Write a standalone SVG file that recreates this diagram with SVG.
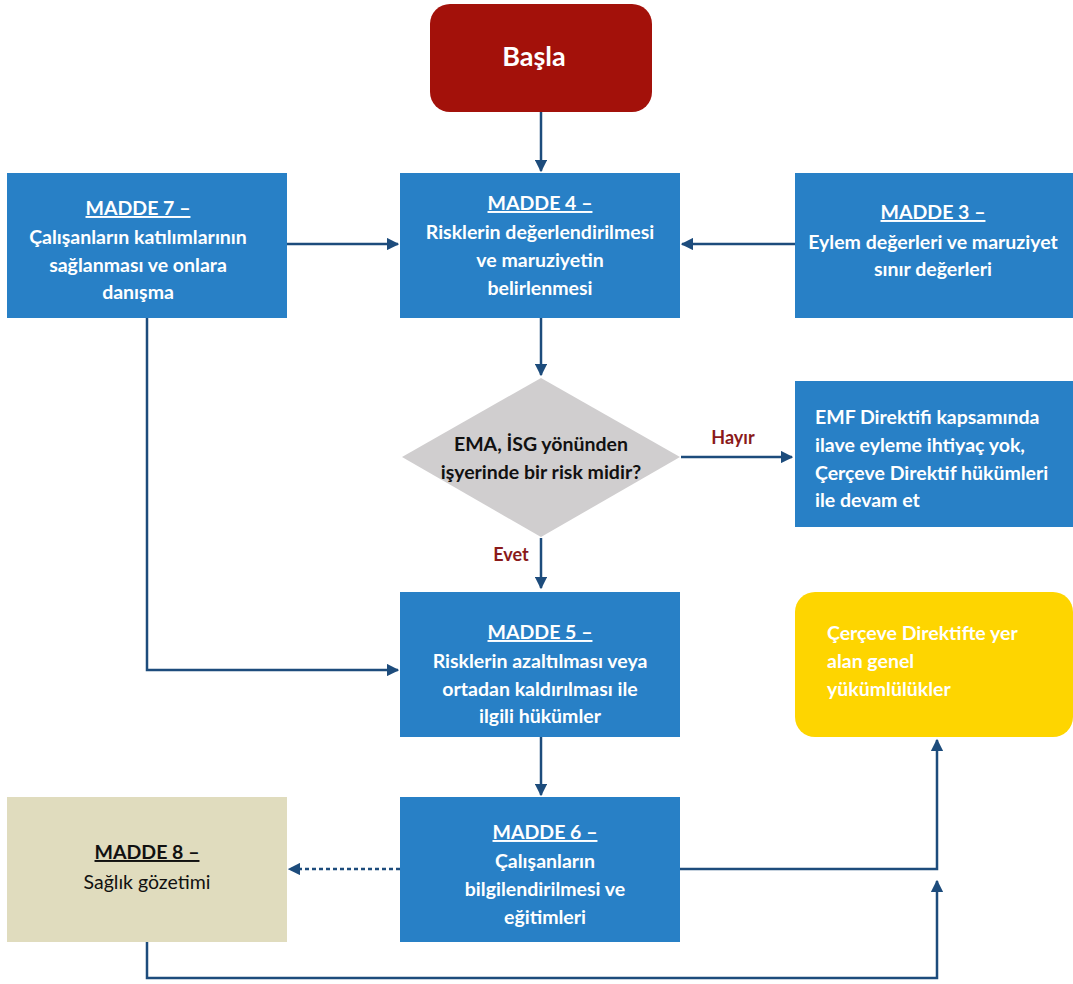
<svg xmlns="http://www.w3.org/2000/svg" width="1073" height="984" viewBox="0 0 1073 984">
<defs>
<style>
.t{font-family:Lato,"Open Sans","Liberation Sans",sans-serif;font-weight:bold;font-size:19.5px;fill:#fff;text-anchor:middle}
.l{text-anchor:start}
.u{text-decoration:underline}
.k{fill:#111}
.lab{font-family:Lato,"Open Sans","Liberation Sans",sans-serif;font-weight:bold;font-size:18px;fill:#8a1a1a}
.blue{fill:#2880c6}
.c{fill:none;stroke:#1d4c7c;stroke-width:2.5}
</style>
<marker id="a" viewBox="0 0 10 10" refX="9" refY="5" markerWidth="5" markerHeight="5" orient="auto" markerUnits="strokeWidth"><path d="M0,0 L10,5 L0,10 z" fill="#1d4c7c"/></marker>
</defs>
<rect width="1073" height="984" fill="#fff"/>
<g id="connectors">
<path class="c" d="M541,112 V171" marker-end="url(#a)"/>
<path class="c" d="M287,244 H398" marker-end="url(#a)"/>
<path class="c" d="M795,244 H682" marker-end="url(#a)"/>
<path class="c" d="M541,318 V375" marker-end="url(#a)"/>
<path class="c" d="M681,457 H792" marker-end="url(#a)"/>
<path class="c" d="M541,538 V588" marker-end="url(#a)"/>
<path class="c" d="M147,318 V670 H398" marker-end="url(#a)"/>
<path class="c" d="M541,737 V795" marker-end="url(#a)"/>
<path class="c" d="M400,869 H289" stroke-dasharray="4,3" marker-end="url(#a)"/>
<path class="c" d="M680,869 H937 V740" marker-end="url(#a)"/>
<path class="c" d="M147,942 V978 H937 V881" marker-end="url(#a)"/>
<text class="lab" x="733" y="444" text-anchor="middle">Hayır</text>
<text class="lab" x="511" y="561" text-anchor="middle">Evet</text>
</g>
<g id="basla">
<rect x="430" y="4" width="222" height="108" rx="20" fill="#a3110a"/>
<text class="t" x="534" y="66" style="font-size:27px">Başla</text>
</g>
<g id="madde4">
<rect class="blue" x="400" y="173" width="280" height="145"/>
<text class="t" x="540" y="210"><tspan class="u">MADDE 4 –</tspan><tspan x="540" dy="29">Risklerin değerlendirilmesi</tspan><tspan x="540" dy="28">ve maruziyetin</tspan><tspan x="540" dy="28">belirlenmesi</tspan></text>
</g>
<g id="madde7">
<rect class="blue" x="7" y="173" width="280" height="145"/>
<text class="t" x="138" y="215"><tspan class="u">MADDE 7 –</tspan><tspan x="138" dy="29">Çalışanların katılımlarının</tspan><tspan x="138" dy="28">sağlanması ve onlara</tspan><tspan x="138" dy="27">danışma</tspan></text>
</g>
<g id="madde3">
<rect class="blue" x="795" y="173" width="278" height="145"/>
<text class="t" x="933" y="219"><tspan class="u">MADDE 3 –</tspan><tspan x="933" dy="30">Eylem değerleri ve maruziyet</tspan><tspan x="933" dy="27">sınır değerleri</tspan></text>
</g>
<g id="karar">
<polygon points="541,378 680,457 541,537 402,457" fill="#d0cecf"/>
<text class="t k" x="541" y="451"><tspan>EMA, İSG yönünden</tspan><tspan x="541" dy="28">işyerinde bir risk midir?</tspan></text>
</g>
<g id="emf">
<rect class="blue" x="795" y="381" width="278" height="146"/>
<text class="t l" x="815" y="424"><tspan>EMF Direktifi kapsamında</tspan><tspan x="815" dy="28">ilave eyleme ihtiyaç yok,</tspan><tspan x="815" dy="28">Çerçeve Direktif hükümleri</tspan><tspan x="815" dy="27">ile devam et</tspan></text>
</g>
<g id="madde5">
<rect class="blue" x="400" y="592" width="280" height="145"/>
<text class="t" x="540" y="639"><tspan class="u">MADDE 5 –</tspan><tspan x="540" dy="29">Risklerin azaltılması veya</tspan><tspan x="540" dy="28">ortadan kaldırılması ile</tspan><tspan x="540" dy="27">ilgili hükümler</tspan></text>
</g>
<g id="genel">
<rect x="795" y="592" width="278" height="145" rx="20" fill="#fed500"/>
<text class="t l" x="827" y="640"><tspan>Çerçeve Direktifte yer</tspan><tspan x="827" dy="28">alan genel</tspan><tspan x="827" dy="28">yükümlülükler</tspan></text>
</g>
<g id="madde6">
<rect class="blue" x="400" y="797" width="280" height="145"/>
<text class="t" x="545" y="839"><tspan class="u">MADDE 6 –</tspan><tspan x="545" dy="29">Çalışanların</tspan><tspan x="545" dy="28">bilgilendirilmesi ve</tspan><tspan x="545" dy="28">eğitimleri</tspan></text>
</g>
<g id="madde8">
<rect x="7" y="797" width="280" height="145" fill="#e0dcbe"/>
<text class="t k" x="147" y="859"><tspan class="u">MADDE 8 –</tspan><tspan x="147" dy="30" style="font-weight:normal">Sağlık gözetimi</tspan></text>
</g>
</svg>
